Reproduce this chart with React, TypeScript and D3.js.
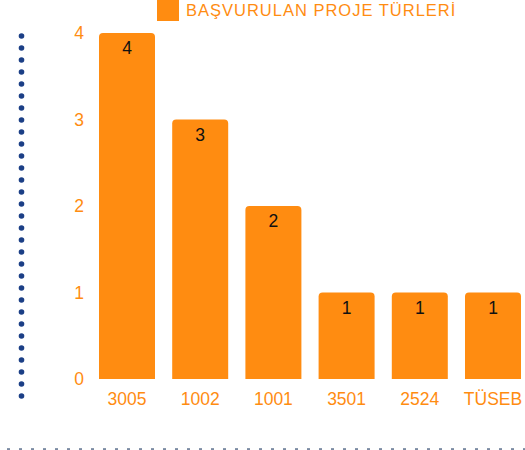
import React from "react";
import * as d3 from "d3";

const categories = ["3005", "1002", "1001", "3501", "2524", "TÜSEB"];
const values = [4, 3, 2, 1, 1, 1];
const yTicks = [0, 1, 2, 3, 4];
const legendLabel = "BAŞVURULAN PROJE TÜRLERİ";

const W = 525;
const H = 450;
const ORANGE = "#ff8c11";
const FONT = "'Liberation Sans', Arial, Helvetica, sans-serif";

function topRoundedRect(x: number, y: number, w: number, h: number, r: number) {
  const rr = Math.min(r, h, w / 2);
  return `M${x},${y + h}V${y + rr}Q${x},${y} ${x + rr},${y}H${x + w - rr}Q${x + w},${y} ${x + w},${y + rr}V${y + h}Z`;
}

export default function App() {
  const x = d3
    .scaleBand<string>()
    .domain(categories)
    .range([90.4, 529.6])
    .paddingInner(0.235)
    .paddingOuter(0.1175);
  const y = d3.scaleLinear().domain([0, 4]).range([379, 33]);

  const leftDots = d3.range(36, 400, 12);
  const bottomDashes = d3.range(7, W, 12);

  return (
    <svg
      width={W}
      height={H}
      style={{ position: "absolute", left: 0, top: 0, display: "block" }}
    >
      <rect width={W} height={H} fill="#fff" />
      {leftDots.map((cy, i) => (
        <circle key={"d" + i} cx={21.5} cy={cy} r={2.8} fill="#1b3f86" />
      ))}
      {bottomDashes.map((cx, i) => (
        <rect key={"b" + i} x={cx} y={448.3} width={3} height={1.5} fill="#5b6e8c" />
      ))}
      {/* legend */}
      <rect x={157} y={-1} width={22} height={22} fill={ORANGE} />
      <text
        x={186}
        y={16}
        fontFamily={FONT}
        fontSize={16.5}
        letterSpacing={1}
        fill={ORANGE}
      >
        {legendLabel}
      </text>
      {/* y ticks */}
      {yTicks.map((t) => (
        <text
          key={"y" + t}
          x={84}
          y={y(t)}
          dy="0.35em"
          textAnchor="end"
          fontFamily={FONT}
          fontSize={17.5}
          fill={ORANGE}
        >
          {t}
        </text>
      ))}
      {/* bars */}
      {categories.map((c, i) => {
        const bx = x(c)!;
        const bw = x.bandwidth();
        const by = y(values[i]);
        const bh = y(0) - by;
        return (
          <g key={c}>
            <path d={topRoundedRect(bx, by, bw, bh, 4)} fill={ORANGE} />
            <text
              x={bx + bw / 2}
              y={by + 15}
              dy="0.35em"
              textAnchor="middle"
              fontFamily={FONT}
              fontSize={17.5}
              fill="#111"
            >
              {values[i]}
            </text>
            <text
              x={bx + bw / 2}
              y={399}
              dy="0.35em"
              textAnchor="middle"
              fontFamily={FONT}
              fontSize={17.5}
              fill={ORANGE}
            >
              {c}
            </text>
          </g>
        );
      })}
    </svg>
  );
}
